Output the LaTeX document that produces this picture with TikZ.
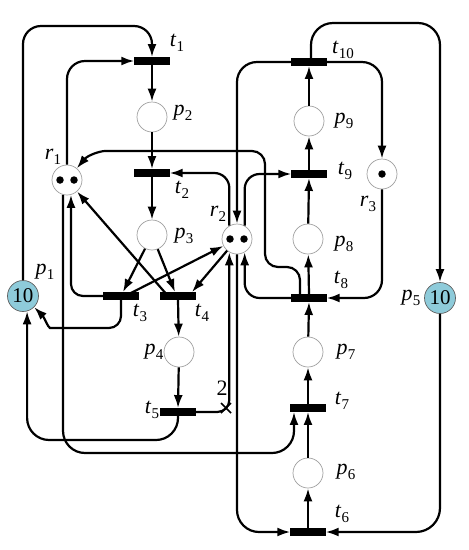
\documentclass[tikz,border=0pt]{standalone}
\usepackage{fontspec}
\setmainfont{Liberation Serif}
\usetikzlibrary{arrows.meta,calc}
\definecolor{tokblue}{RGB}{142,203,218}
\definecolor{ringgray}{RGB}{160,160,160}
\newcommand\plab[2]{\fontsize{22}{22}\selectfont\textit{#1}\kern0.3pt\raisebox{-0.45ex}{\fontsize{15}{15}\selectfont #2}}
\begin{document}
\begin{tikzpicture}[x=1pt,y=-1pt,
  place/.style={circle,draw=ringgray,line width=0.7pt,fill=white,minimum size=30pt,inner sep=0pt},
  bluepl/.style={circle,draw=ringgray!60!black,line width=0.7pt,fill=tokblue,minimum size=31pt,inner sep=0pt,font=\fontsize{21}{21}\selectfont},
  bar/.style={rectangle,fill=black,minimum width=35pt,minimum height=7.5pt,inner sep=0pt},
  arc/.style={line width=2.2pt,-{Latex[length=13pt,width=9pt]}},
  lbl/.style={inner sep=0pt},
  tok/.style={circle,fill=black,minimum size=7.5pt,inner sep=0pt}]
\useasboundingbox (0,0) rectangle (469,550);
% places
\node[bluepl] (p1) at (23,296) {10};
\node[place] (p2) at (152,117) {};
\node[place] (p3) at (152,235) {};
\node[place] (p4) at (179,352) {};
\node[bluepl] (p5) at (440,298) {10};
\node[place] (p6) at (308,473) {};
\node[place] (p7) at (308,352) {};
\node[place] (p8) at (308,239) {};
\node[place] (p9) at (309,121) {};
\node[place] (r1) at (67,180) {};
\node[place] (r2) at (237,239) {};
\node[place] (r3) at (382,174) {};
\node[tok] (r1a) at (60,180) {};
\node[tok] (r1b) at (74,180) {};
\node[tok] (r2a) at (230,239) {};
\node[tok] (r2b) at (244,239) {};
\node[tok] (r3a) at (382,174) {};
% transitions
\node[bar] (t1) at (152,61) {};
\node[bar] (t2) at (152,173) {};
\node[bar] (t3) at (121,296) {};
\node[bar] (t4) at (178,296) {};
\node[bar] (t5) at (178,412) {};
\node[bar] (t6) at (308,532) {};
\node[bar] (t7) at (308,408) {};
\node[bar] (t8) at (309,298) {};
\node[bar] (t9) at (309,174) {};
\node[bar] (t10) at (309,62) {};
% labels
\node[lbl] (lt1) at (177,43) {\plab{t}{1}};
\node[lbl] (lp2) at (183,113) {\plab{p}{2}};
\node[lbl] (lr1) at (53,157) {\plab{r}{1}};
\node[lbl] (lt2) at (182,190) {\plab{t}{2}};
\node[lbl] (lp3) at (184,236) {\plab{p}{3}};
\node[lbl] (lr2) at (218,214) {\plab{r}{2}};
\node[lbl] (lp1) at (45,272) {\plab{p}{1}};
\node[lbl] (lt3) at (140,313) {\plab{t}{3}};
\node[lbl] (lt4) at (202,313) {\plab{t}{4}};
\node[lbl] (lp4) at (154,352) {\plab{p}{4}};
\node[lbl] (lt5) at (152,410) {\plab{t}{5}};
\node[lbl] (lw) at (222,388) {\fontsize{22}{22}\selectfont 2};
\node[lbl] (lt10) at (343,50) {\plab{t}{10}};
\node[lbl] (lp9) at (344,121) {\plab{p}{9}};
\node[lbl] (lt9) at (345,171) {\plab{t}{9}};
\node[lbl] (lr3) at (368,204) {\plab{r}{3}};
\node[lbl] (lp8) at (344,244) {\plab{p}{8}};
\node[lbl] (lt8) at (341,280) {\plab{t}{8}};
\node[lbl] (lp5) at (411,298) {\plab{p}{5}};
\node[lbl] (lp7) at (346,352) {\plab{p}{7}};
\node[lbl] (lt7) at (342,401) {\plab{t}{7}};
\node[lbl] (lp6) at (346,472) {\plab{p}{6}};
\node[lbl] (lt6) at (342,514) {\plab{t}{6}};
% vertical chains
\draw[arc] (t1.south) -- (p2);
\draw[arc] (p2) -- (t2.north);
\draw[arc] (t2.south) -- (p3);
\draw[arc] (t4.south) -- (p4);
\draw[arc] (p4) -- (t5.north);
\draw[arc] (t6.north) -- (p6);
\draw[arc] (p6) -- (t7.south);
\draw[arc] (t7.north) -- (p7);
\draw[arc] (p7) -- (t8.south);
\draw[arc] (t8.north) -- (p8);
\draw[arc] (p8) -- (t9.south);
\draw[arc] (t9.north) -- (p9);
\draw[arc] (p9) -- (t10.south);
% p1 -> t1
\draw[arc,rounded corners=18pt] (p1.north) -- (p1.north |- 0,26) -- (t1.north |- 0,26) -- (t1.north);
% r1 -> t1
\draw[arc,rounded corners=18pt] (r1.north) -- (r1.north |- t1.west) -- (t1.west);
% t8 -> r1
\draw[arc,rounded corners=13pt] ([xshift=-9pt]t8.north) -- ([xshift=-9pt]t8.north |- 0,267) -- (265,267) -- (265,151) -- (118,151) to[out=180,in=50] (r1.50);
% r2 -> t2
\draw[arc,rounded corners=15pt] (r2.120) -- (r2.120 |- t2.east) -- (t2.east);
% r2 -> t9
\draw[arc,rounded corners=15pt] (r2.60) -- (r2.60 |- t9.west) -- (t9.west);
% t10 -> r2
\draw[arc,rounded corners=20pt] (t10.west) -- (t10.west -| r2.north) -- (r2.north);
% t10 -> r3
\draw[arc,rounded corners=20pt] (t10.east) -- (t10.east -| r3.north) -- (r3.north);
% t10 -> p5
\draw[arc,rounded corners=22pt] ([xshift=2pt]t10.north) -- ([xshift=2pt]t10.north |- 0,23) -- (p5.north |- 0,23) -- (p5.north);
% r3 -> t8
\draw[arc,rounded corners=18pt] (r3.south) -- (r3.south |- t8.east) -- (t8.east);
% t8 -> r2
\draw[arc,rounded corners=15pt] (t8.west) -- (t8.west -| r2.-60) -- (r2.-60);
% p5 -> t6
\draw[arc,rounded corners=24pt] (p5.south) -- (p5.south |- t6.east) -- (t6.east);
% r2 -> t6
\draw[arc,rounded corners=22pt] (r2.south) -- (r2.south |- t6.west) -- (t6.west);
% t5 -> r2 (weight 2)
\draw[arc,rounded corners=12pt] (t5.east) -- (t5.east -| r2.-120) -- (r2.-120);
\coordinate (wx) at (226,408);
\draw[line width=1.6pt] ($(wx)+(-5,-5)$) -- ($(wx)+(5,5)$);
\draw[line width=1.6pt] ($(wx)+(-5,5)$) -- ($(wx)+(5,-5)$);
% p3 -> t3, p3 -> t4
\draw[arc] (p3) -- ([xshift=2pt]t3.north);
\draw[arc] (p3) -- ([xshift=-3pt]t4.north);
% t3 -> r2
\draw[arc] ([xshift=4pt]t3.center) -- (r2);
% r2 -> t4
\draw[arc] (r2) -- ([xshift=14pt]t4.north);
% t4 -> r1
\draw[arc] ([xshift=-10pt]t4.center) -- (r1);
% t3 -> r1
\draw[arc,rounded corners=12pt] (t3.west) -- (t3.west -| r1.-75) -- (r1.-75);
% t3 -> p1
\draw[arc,rounded corners=12pt] (t3.south) -- (t3.south |- 0,328) -- (62,328) to[out=180,in=-45] (p1.-45);
% t5 -> p1
\draw[arc,rounded corners=22pt] (t5.south) -- (t5.south |- 0,440) -- (p1.-75 |- 0,440) -- (p1.-75);
% r1 -> t7
\draw[arc,rounded corners=22pt] (r1.-105) -- (r1.-105 |- 0,453) -- ([xshift=-14pt]t7.south |- 0,453) -- ([xshift=-14pt]t7.south);
% redraw bars on top
\foreach \t in {t1,t2,t3,t4,t5,t6,t7,t8,t9,t10} \fill (\t.south west) rectangle (\t.north east);
\end{tikzpicture}
\end{document}
